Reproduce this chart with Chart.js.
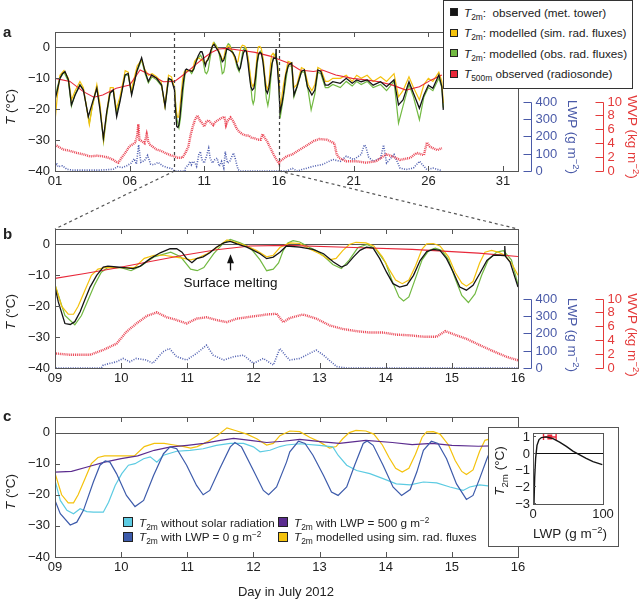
<!DOCTYPE html>
<html><head><meta charset="utf-8">
<script src="https://cdn.jsdelivr.net/npm/chart.js@4.4.1/dist/chart.umd.min.js"></script>
<style>
html,body{margin:0;padding:0;background:#fff;}
body{width:640px;height:599px;position:relative;overflow:hidden;font-family:"Liberation Sans",Arial,Helvetica,sans-serif;color:#222;}
canvas.panel{position:absolute;left:0;}
.txt{position:absolute;white-space:nowrap;line-height:1;}
.c{transform:translate(-50%,-50%);}
.r{transform:translate(-100%,-50%);}
.rotL{transform:translate(-50%,-50%) rotate(-90deg);}
.rotR{transform:translate(-50%,-50%) rotate(90deg);}
.lbl{position:absolute;font-weight:bold;font-size:15px;line-height:16px;}
.legbox{position:absolute;background:#fff;border:1px solid #333;box-sizing:border-box;}
.item{position:absolute;display:flex;align-items:center;height:16px;white-space:nowrap;font-size:11.7px;}
.item .sq{display:inline-block;box-sizing:border-box;border:1px solid #222;margin-right:6px;}
sub{font-size:0.72em;vertical-align:-0.35em;line-height:0;}
sup{font-size:0.7em;vertical-align:0.55em;line-height:0;}
#inset{position:absolute;left:488px;top:427px;width:131px;height:120px;box-sizing:border-box;border:1px solid #555;background:#fff;}
#inset canvas{display:block;}
</style>
</head><body>
<canvas id="cA" class="panel" width="640" height="192" style="top:0"></canvas>
<canvas id="cB" class="panel" width="640" height="195" style="top:195px"></canvas>
<canvas id="cC" class="panel" width="640" height="204" style="top:395px"></canvas>
<svg id="conn" width="640" height="599" style="position:absolute;left:0;top:0;pointer-events:none"></svg>
<div id="inset"><canvas id="cD" width="129" height="118"></canvas></div>
<div id="texts"></div>
<script>
// ---------------- axes / ticks ----------------
const monthRange = [1, 32];
const zoomRange = [9, 16];
const monthTicks = [1, 6, 11, 16, 21, 26, 31];
const monthTickLabels = ['01', '06', '11', '16', '21', '26', '31'];
const zoomTicks = [9, 10, 11, 12, 13, 14, 15, 16];
const zoomTickLabels = ['09', '10', '11', '12', '13', '14', '15', '16'];
const tempTicks = [-40, -30, -20, -10, 0];
const lwpTicks = [0, 100, 200, 300, 400];
const wvpTicks = [0, 2, 4, 6, 8, 10];
const insetLwpTicks = [0, 100];
const insetTempTicks = [-3, -2, -1, 0, 1];

// ---------------- series: [day, value] ----------------
const obsT2m = [
[1.0,-17],[1.15,-14],[1.33,-10],[1.5,-8.5],[1.67,-7.8],[1.9,-10.5],[2.1,-18.6],[2.35,-15.4],[2.67,-12.2],[2.9,-13.8],
[3.23,-22.4],[3.46,-18.6],[3.8,-13.2],[4.0,-19.7],[4.24,-29.4],[4.46,-21],[4.68,-14.8],[4.9,-13.8],[5.13,-22.4],[5.35,-17.5],
[5.69,-8.9],[5.9,-8.4],[6.13,-15.4],[6.47,-7.8],[6.8,-3.3],[7.03,-7.8],[7.25,-11],[7.47,-8.9],[7.8,-10],[8.14,-12.2],
[8.37,-19.1],[8.6,-10],[8.8,-10.5],
[9.0,-13.8],[9.05,-18.6],[9.15,-25.6],[9.23,-25.9],[9.3,-25],[9.38,-21.8],[9.45,-18],[9.53,-13.8],[9.63,-10],[9.73,-7.3],
[9.8,-7],[9.93,-7.3],[10.08,-7.6],[10.18,-7.8],[10.29,-7],[10.44,-4.6],[10.59,-2.7],[10.74,-1.4],[10.84,-1.4],[10.92,-2.5],
[10.99,-4.6],[11.07,-5.9],[11.14,-4.6],[11.24,-4],[11.34,-2.7],[11.44,-0.9],[11.55,0.5],[11.65,1],[11.75,0.2],[11.9,-0.9],
[12.0,-1.9],[12.1,-3],[12.2,-4.6],[12.3,-4.1],[12.4,-2.5],[12.5,-0.5],[12.7,-0.9],[12.9,-1.6],[13.06,-3],[13.21,-5.7],
[13.33,-7.3],[13.41,-6.6],[13.51,-4.1],[13.61,-1.9],[13.71,-0.9],[13.81,-1.2],[13.91,-4.6],[14.01,-8.9],[14.11,-12.7],[14.21,-13.8],
[14.32,-13.2],[14.42,-10],[14.52,-5.2],[14.62,-2.3],[14.72,-1.6],[14.82,-1.9],[14.92,-4.6],[15.02,-8.9],[15.12,-13.8],[15.22,-14.8],
[15.32,-13.2],[15.42,-9.5],[15.53,-5.2],[15.63,-3.5],[15.73,-3.5],[15.79,-3.6],[15.8,-0.5],[15.81,-3.8],[15.88,-5.7],[16.0,-13.8],
[16.07,-21],[16.2,-18],[16.3,-15],[16.45,-9],[16.63,-5.7],[16.85,-5],[17.0,-15.4],[17.2,-12.7],[17.5,-7.8],[17.7,-7.3],
[17.9,-12.7],[18.2,-15.4],[18.4,-13.8],[18.6,-7.3],[18.8,-7.8],[19.1,-12.2],[19.3,-12.2],[19.6,-11.1],[20.1,-11.6],[20.5,-10],
[20.9,-11.6],[21.2,-10.5],[21.5,-11.1],[21.9,-10.5],[22.3,-12.2],[22.8,-11.1],[23.2,-12.7],[23.7,-10.5],[24.0,-18.6],[24.3,-17],
[24.7,-11.1],[25.0,-14.8],[25.4,-19.7],[25.7,-15.4],[26.0,-12.2],[26.3,-13.2],[26.7,-8.9],[26.9,-12.7],[27.0,-20.2]
];
const simT2m = [
[1.0,-24],[1.15,-16],[1.33,-9],[1.6,-7.5],[1.9,-10],[2.1,-17],[2.35,-14],[2.67,-11],[2.9,-13],[3.3,-25],
[3.5,-19],[3.8,-12],[4.0,-18],[4.25,-30],[4.46,-21],[4.7,-13],[4.9,-13],[5.1,-20],[5.35,-16],[5.7,-7.5],
[5.9,-8],[6.1,-14],[6.5,-6],[6.8,-4],[7.0,-7],[7.25,-9],[7.5,-8.5],[7.8,-9.5],[8.1,-11],[8.35,-19],
[8.6,-9],[8.8,-9.5],
[9.0,-13],[9.1,-20],[9.2,-22.6],[9.28,-22.6],[9.35,-20],[9.45,-15],[9.55,-10],[9.65,-8],[9.75,-7.5],[10.0,-7.5],
[10.2,-7.5],[10.35,-4.5],[10.5,-3.5],[10.65,-3.5],[10.8,-4],[10.95,-4.5],[11.05,-5],[11.15,-4.5],[11.3,-3],[11.45,-1],
[11.6,1.5],[11.75,0.5],[11.9,-0.5],[12.05,-2],[12.2,-4],[12.3,-3.5],[12.4,-1],[12.55,0.5],[12.7,0.3],[12.85,-1.5],
[13.0,-3],[13.15,-5],[13.25,-4.5],[13.35,-2],[13.45,0],[13.55,0.7],[13.7,0.5],[13.82,-0.5],[13.95,-4],[14.05,-8],
[14.15,-11.5],[14.25,-12.7],[14.35,-11.5],[14.45,-7],[14.55,-1.5],[14.62,0.2],[14.72,0.3],[14.82,-0.5],[14.95,-4],[15.05,-9],
[15.15,-12.5],[15.22,-13.5],[15.32,-12],[15.42,-6],[15.5,-2.5],[15.6,-1.9],[15.7,-2.5],[15.8,-3.5],[15.9,-6],[16.0,-10],
[16.07,-20],[16.3,-12],[16.6,-4.5],[16.85,-5],[17.0,-13],[17.2,-12],[17.5,-6.5],[17.7,-7],[17.95,-12],[18.2,-14],
[18.4,-12],[18.6,-6.5],[18.8,-7],[19.1,-11],[19.3,-11],[19.6,-10],[20.1,-10],[20.5,-9],[20.9,-11],[21.2,-9],
[21.5,-10],[21.9,-9],[22.3,-11],[22.8,-9.5],[23.2,-11],[23.7,-8.5],[24.0,-16],[24.3,-14],[24.7,-9.5],[25.0,-13],
[25.4,-17],[25.7,-12],[26.0,-10],[26.3,-11],[26.7,-8],[26.9,-11],[27.0,-18]
];
const obsRadT2m = [
[1.0,-17],[1.15,-13],[1.33,-10],[1.6,-8],[1.9,-11],[2.1,-19],[2.35,-15],[2.67,-12],[2.9,-13.5],[3.3,-24.5],
[3.5,-19],[3.8,-13],[4.0,-19],[4.25,-30.5],[4.46,-22],[4.7,-14.5],[4.9,-14],[5.13,-21],[5.35,-17],[5.7,-9],
[5.9,-9],[6.13,-15],[6.47,-8],[6.8,-4],[7.03,-8.5],[7.25,-11.5],[7.5,-9.5],[7.8,-10.5],[8.14,-12.5],[8.37,-19],
[8.6,-10.5],[8.8,-10.5],
[9.0,-13],[9.15,-23],[9.3,-26],[9.4,-23],[9.5,-18],[9.6,-13],[9.7,-9],[9.8,-7.5],[10.0,-7.5],[10.15,-8.5],
[10.3,-7],[10.5,-4],[10.75,-2.5],[10.9,-4],[11.05,-8],[11.15,-8.5],[11.25,-7.5],[11.4,-3],[11.55,0.5],[11.65,1.6],
[11.8,0.5],[11.95,-1],[12.1,-5],[12.2,-8.5],[12.3,-8],[12.38,-6],[12.45,-2],[12.52,0.5],[12.6,1.2],[12.7,0.8],
[12.85,-1],[12.95,-2],[13.05,-3.5],[13.2,-6.5],[13.33,-7.8],[13.45,-5],[13.58,-1],[13.72,0],[13.85,-1.5],[14.0,-6],
[14.1,-12],[14.2,-17],[14.27,-18.3],[14.35,-17],[14.45,-11],[14.55,-5],[14.65,-2],[14.75,-1.2],[14.85,-2],[14.95,-5],
[15.05,-11],[15.15,-16.5],[15.25,-18.8],[15.35,-16],[15.45,-10],[15.55,-5],[15.68,-2.5],[15.78,-2],[15.9,-5],[16.0,-13],
[16.07,-23],[16.3,-16],[16.6,-6],[16.85,-6],[17.0,-16],[17.2,-13],[17.5,-8],[17.7,-8],[17.95,-14],[18.15,-20.2],
[18.4,-15],[18.6,-8],[18.8,-8.5],[19.1,-13],[19.3,-13],[19.6,-12],[20.1,-13],[20.5,-11],[20.9,-12.5],[21.2,-11],
[21.5,-12],[21.9,-11],[22.3,-13],[22.8,-12],[23.2,-14],[23.7,-11],[24.0,-24.5],[24.3,-19],[24.7,-12],[25.0,-16],
[25.4,-23.4],[25.7,-16],[26.0,-13],[26.3,-14],[26.7,-10],[26.9,-13],[27.0,-19.5]
];
const t500 = [
[1.0,-10],[2.0,-11],[2.9,-14.3],[3.6,-16.1],[4.2,-15.4],[5.1,-13.2],[6.0,-12.2],[6.7,-7.3],[7.4,-8.9],[8.25,-11.1],
[9.0,-11],[9.43,-9.5],[9.93,-7.6],[10.44,-5.5],[10.94,-3.5],[11.44,-1.7],[11.95,-0.5],[12.5,-0.3],[13.4,-0.9],[14.4,-1.6],
[15.4,-2.8],[16.0,-3.9],[16.7,-5.2],[17.4,-7.3],[18.3,-7.8],[18.9,-7.3],[19.8,-8.9],[20.9,-10],[21.8,-10.5],[22.7,-11.1],
[23.6,-12.2],[24.5,-13.8],[25.4,-12.7],[26.2,-10.5],[26.9,-8.9]
];
const wvp = [
[1.0,3.8],[1.3,3.4],[1.56,3.1],[2.0,2.9],[2.45,2.6],[2.9,2.4],[3.34,2.1],[3.8,2.2],[4.24,2.1],[4.6,1.9],
[4.9,1.6],[5.1,1.3],[5.24,1.2],[5.46,1.9],[5.7,2.6],[6.0,3.6],[6.2,3.8],[6.36,4.1],[6.5,5.0],[6.58,6.7],
[6.65,4.5],[6.8,4.3],[7.0,4.0],[7.14,5.3],[7.25,4.2],[7.36,3.8],[7.6,3.4],[7.8,3.1],[8.1,2.9],[8.37,2.6],
[8.7,2.3],[9.0,2.1],[9.23,1.9],[9.53,1.9],[9.73,2.6],[9.93,3.5],[10.08,5.2],[10.23,6.4],[10.39,7.5],[10.54,8.0],
[10.69,7.3],[10.84,6.9],[10.99,6.4],[11.14,7.1],[11.29,7.3],[11.44,6.9],[11.6,6.6],[11.75,7.1],[11.9,7.3],[12.05,7.5],
[12.2,7.7],[12.35,7.8],[12.45,6.6],[12.55,7.2],[12.75,7.7],[12.95,7.1],[13.16,6.1],[13.36,5.6],[13.56,5.3],[13.76,5.1],
[13.96,5.1],[14.16,4.8],[14.37,4.7],[14.57,4.5],[14.77,4.5],[14.9,5.3],[15.07,4.7],[15.22,4.2],[15.42,3.3],[15.63,2.4],
[15.83,1.6],[16.0,1.1],[16.07,1.4],[16.5,2.1],[16.9,2.4],[17.4,3.1],[17.8,3.6],[18.3,4.3],[18.7,4.6],[19.2,4.5],
[19.7,4.0],[19.85,2.5],[20.0,1.9],[20.5,1.4],[21.2,1.4],[21.8,1.2],[22.5,1.4],[22.9,2.0],[23.2,2.4],[23.6,2.1],
[24.1,1.6],[24.8,1.9],[25.2,2.6],[25.7,2.3],[25.9,4.1],[26.1,3.5],[26.3,3.3],[26.6,3.0],[26.9,3.3]
];
const lwp = [
[1.0,20],[1.1,45],[1.2,25],[1.5,30],[1.8,10],[2.2,5],[3.0,5],[4.0,5],[4.9,10],[5.2,25],
[5.5,20],[5.8,30],[6.1,45],[6.3,70],[6.45,40],[6.6,150],[6.75,50],[7.0,60],[7.2,90],[7.4,40],
[7.6,35],[7.9,50],[8.2,30],[8.5,20],[8.8,15],[9.0,0],[9.7,0],[9.73,17],[9.93,36],[10.03,55],
[10.13,36],[10.23,55],[10.38,46],[10.48,27],[10.63,93],[10.73,112],[10.84,65],[10.99,46],[11.14,84],[11.29,131],
[11.39,74],[11.55,46],[11.7,65],[11.85,74],[12.0,27],[12.15,55],[12.3,17],[12.4,112],[12.5,65],[12.55,46],
[12.7,55],[12.85,84],[12.95,103],[13.06,74],[13.16,40],[13.26,8],[13.4,0],[16.5,0],[16.9,15],[17.2,0],
[17.8,15],[18.3,27],[18.9,37],[19.6,66],[20.1,56],[20.5,85],[21.0,66],[21.5,95],[21.7,150],[21.8,143],
[22.0,80],[22.3,56],[22.8,75],[23.0,150],[23.2,46],[23.7,95],[24.1,17],[24.5,8],[25.0,17],[25.4,56],
[25.9,8],[26.3,17],[26.9,2]
];
// panel c model experiments
const noSolarT2m = [
[9.0,-15.4],[9.08,-21.8],[9.18,-25],[9.28,-26.1],[9.38,-24.5],[9.48,-25.4],[9.58,-25.6],[9.73,-25.6],[9.81,-22.4],[9.91,-17],
[10.01,-13.2],[10.11,-10.5],[10.21,-10],[10.34,-8.4],[10.44,-7.8],[10.54,-9.5],[10.64,-7.3],[10.84,-6.0],[11.04,-5.7],[11.24,-5.2],
[11.44,-4.1],[11.65,-3.5],[11.85,-3.5],[12.0,-4.6],[12.1,-6.2],[12.25,-5.7],[12.4,-4.5],[12.5,-4.0],[12.7,-3.6],[13.0,-4.1],
[13.2,-4.6],[13.28,-7.3],[13.41,-10.5],[13.56,-12.2],[13.76,-13.2],[13.96,-14.8],[14.16,-16.5],[14.37,-16.8],[14.57,-15.9],[14.77,-16.2],
[14.97,-17.5],[15.17,-18.6],[15.27,-17.5],[15.42,-16.8],[15.58,-17.2]
];
const lwp0T2m = [
[9.0,-21.8],[9.08,-26.1],[9.23,-29.7],[9.33,-28.8],[9.43,-25],[9.58,-15.9],[9.68,-10.5],[9.76,-9.1],[9.83,-9.5],[9.93,-13.2],
[10.08,-20.2],[10.21,-23.8],[10.34,-21.8],[10.49,-13.8],[10.64,-6.8],[10.74,-4.6],[10.84,-5.2],[10.99,-10.5],[11.14,-17],[11.24,-20],
[11.34,-18.6],[11.49,-11.6],[11.65,-4.6],[11.72,-3.2],[11.82,-4.6],[12.0,-12.2],[12.15,-18.6],[12.23,-20],[12.35,-17.5],[12.5,-9.5],
[12.55,-6.2],[12.68,-2.8],[12.78,-3.5],[12.9,-7.3],[13.06,-13.8],[13.18,-19.1],[13.28,-20.2],[13.41,-17.5],[13.53,-10.5],[13.66,-3.5],
[13.72,-2.7],[13.81,-4.1],[13.96,-10.5],[14.11,-17.5],[14.24,-20.2],[14.37,-18.3],[14.47,-12.7],[14.57,-5.7],[14.69,-2.8],[14.79,-3.5],
[14.92,-8.4],[15.07,-16.5],[15.22,-21.5],[15.32,-20.2],[15.42,-14.8],[15.53,-8.4],[15.63,-3.5]
];
const lwp500T2m = [
[9.0,-12.7],[9.25,-12.5],[9.5,-11],[9.75,-9.5],[10.0,-8.4],[10.25,-7.5],[10.5,-5.7],[10.75,-4.6],[11.0,-4.1],[11.25,-3.5],
[11.5,-2.5],[11.7,-1.9],[11.95,-2.5],[12.2,-3.2],[12.45,-2.8],[12.7,-2.2],[13.05,-3.0],[13.3,-3.5],[13.7,-2.5],[14.1,-3.2],
[14.4,-3.9],[14.7,-3.5],[15.0,-4.1],[15.4,-4.4],[15.6,-4.3]
];
// inset: T2m sensitivity to LWP, [LWP, T]
const insetCurve = [
[1.4,-3.1],[2.4,-1.5],[3.8,-0.3],[5.7,0.45],[8.6,0.8],[12,0.92],[19,0.96],[28.6,0.86],[38,0.65],[47.6,0.39],
[57,0.1],[66.7,-0.12],[76,-0.33],[85.7,-0.53],[99,-0.71]
];
const insetObsLwp = [15, 24, 33];   // observed LWP range (min, mean, max)
const insetObsT = 0.95;

// ---------------- styling ----------------
const FONT = '"Liberation Sans", Arial, Helvetica, sans-serif';
const C = {black:'#151515', yellow:'#f4c20d', green:'#72b942', red:'#e8283a', blue:'#3d4fa8',
           cyan:'#5ccbe2', dblue:'#3d5bab', purple:'#5b2c8f', frame:'#555', lwpAxis:'#4a5aa8', wvpAxis:'#e43a3a',
           wvpDots:'rgba(232,40,58,0.85)', lwpDots:'rgba(61,79,168,0.9)'};
Chart.defaults.font.family = FONT;
Chart.defaults.font.size = 13;
Chart.defaults.color = '#222';
Chart.defaults.animation = false;

const pts = a => a.map(p => ({x: p[0], y: p[1]}));
const fmt = v => (v < 0 ? '\u2212' : '') + Math.abs(v);
function lineDS(label, data, color, width, extra) {
  return Object.assign({label, data: pts(data), borderColor: color, backgroundColor: color,
    borderWidth: width, pointRadius: 0, tension: 0, fill: false}, extra || {});
}
function xScale(range, ticks, labels, h) {
  return {type: 'linear', min: range[0], max: range[1],
    afterBuildTicks: s => { s.ticks = ticks.map(v => ({value: v})); },
    afterFit: s => { s.height = h; s.paddingLeft = 0; s.paddingRight = 0; },
    grid: {display: false, drawTicks: false}, border: {display: false},
    ticks: {padding: 3, maxRotation: 0, autoSkip: false, callback: (v, i) => labels[i]}};
}
function yScale(min, max, ticks, w, pad, showLabels) {
  return {type: 'linear', position: 'left', min, max,
    afterBuildTicks: s => { s.ticks = ticks.map(v => ({value: v})); },
    afterFit: s => { s.width = w; s.paddingTop = 0; s.paddingBottom = 0; },
    grid: {display: false, drawTicks: false}, border: {display: false},
    ticks: {display: showLabels !== false, padding: pad, autoSkip: false, callback: v => fmt(v)}};
}
// hidden right-hand scales: their tick range fills the lower half of the plot
const hiddenScale = top => ({type: 'linear', axis: 'y', position: 'right', display: false, min: 0, max: top * 2});

const framePlugin = {
  id: 'frame',
  beforeDatasetsDraw(chart, args, o) {
    const {ctx, chartArea: a, scales} = chart;
    if (o.zero) {
      const y = Math.round(scales.y.getPixelForValue(0)) + 0.5;
      ctx.save(); ctx.strokeStyle = o.zeroColor || '#555'; ctx.lineWidth = 1;
      ctx.beginPath(); ctx.moveTo(a.left, y); ctx.lineTo(a.right, y); ctx.stroke(); ctx.restore();
    }
  },
  afterDatasetsDraw(chart, args, o) {
    const {ctx, chartArea: a, scales} = chart;
    ctx.save();
    (o.vlines || []).forEach(d => {
      const x = Math.round(scales.x.getPixelForValue(d)) + 0.5;
      ctx.setLineDash([3, 3]); ctx.strokeStyle = '#444'; ctx.lineWidth = 1.2;
      ctx.beginPath(); ctx.moveTo(x, a.top); ctx.lineTo(x, a.bottom); ctx.stroke();
    });
    ctx.setLineDash([]); ctx.strokeStyle = C.frame; ctx.lineWidth = 1;
    const L = Math.round(a.left) + 0.5, T = Math.round(a.top) + 0.5;
    ctx.strokeRect(L, T, Math.round(a.right) - Math.round(a.left), Math.round(a.bottom) - Math.round(a.top));
    const tl = o.tick || 5;
    ctx.beginPath();
    scales.x.ticks.forEach(t => {
      const x = Math.round(scales.x.getPixelForValue(t.value)) + 0.5;
      ctx.moveTo(x, a.top); ctx.lineTo(x, a.top + tl);
      ctx.moveTo(x, a.bottom); ctx.lineTo(x, a.bottom - tl);
    });
    scales.y.ticks.forEach(t => {
      const y = Math.round(scales.y.getPixelForValue(t.value)) + 0.5;
      ctx.moveTo(a.left, y); ctx.lineTo(a.left + tl, y);
    });
    ctx.stroke();
    ctx.restore();
  }
};
const sideAxesPlugin = {
  id: 'sideAxes',
  afterDraw(chart, args, o) {
    const {ctx, chartArea: a} = chart;
    (o.axes || []).forEach(ax => {
      const sc = chart.scales[ax.id];
      const xl = Math.round(a.right + ax.offset) + 0.5;
      const ys = ax.ticks.map(v => Math.round(sc.getPixelForValue(v)) + 0.5);
      ctx.save(); ctx.strokeStyle = ax.color; ctx.fillStyle = ax.color; ctx.lineWidth = 1;
      ctx.beginPath(); ctx.moveTo(xl, Math.min(...ys)); ctx.lineTo(xl, Math.max(...ys));
      ys.forEach(y => { ctx.moveTo(xl - 8, y); ctx.lineTo(xl, y); });
      ctx.stroke();
      ctx.font = '13px ' + FONT; ctx.textAlign = 'left'; ctx.textBaseline = 'middle';
      ax.ticks.forEach((v, i) => ctx.fillText(String(v), xl + 4, ys[i]));
      ctx.restore();
    });
  }
};
const notePlugin = {
  id: 'note',
  afterDatasetsDraw(chart, args, o) {
    if (!o || !o.text) return;
    const {ctx, scales: {x, y}} = chart;
    const px = Math.round(x.getPixelForValue(o.day)) + 0.5;
    const yh = y.getPixelForValue(o.head), yt = y.getPixelForValue(o.tail);
    ctx.save(); ctx.strokeStyle = '#111'; ctx.fillStyle = '#111'; ctx.lineWidth = 1.3;
    ctx.beginPath(); ctx.moveTo(px, yt); ctx.lineTo(px, yh + 5); ctx.stroke();
    ctx.beginPath(); ctx.moveTo(px, yh); ctx.lineTo(px - 3.5, yh + 9); ctx.lineTo(px + 3.5, yh + 9); ctx.closePath(); ctx.fill();
    ctx.font = '13.5px ' + FONT; ctx.textAlign = 'center'; ctx.textBaseline = 'middle';
    ctx.fillText(o.text, px, y.getPixelForValue(o.textAt));
    ctx.restore();
  }
};

function tempDatasets() {
  return [
    lineDS('T2m observed (met. tower)', obsT2m, C.black, 1.3),
    lineDS('T500m observed (radiosonde)', t500, C.red, 1.1),
    lineDS('T2m modelled (sim. rad. fluxes)', simT2m, C.yellow, 1.2),
    lineDS('T2m modelled (obs. rad. fluxes)', obsRadT2m, C.green, 1.2),
    lineDS('WVP', wvp, C.wvpDots, 2.4, {yAxisID: 'wvp', borderDash: [1, 0.9]}),
    lineDS('LWP', lwp, C.lwpDots, 1.6, {yAxisID: 'lwp', borderDash: [1, 1.4]})
  ];
}
const sideAxes = [
  {id: 'lwp', ticks: lwpTicks, offset: 13, color: C.lwpAxis},
  {id: 'wvp', ticks: wvpTicks, offset: 85, color: C.wvpAxis}
];
const baseOpts = {responsive: false, animation: false, events: []};

const chartA = new Chart(document.getElementById('cA'), {
  type: 'line',
  data: {datasets: tempDatasets()},
  options: Object.assign({}, baseOpts, {
    layout: {padding: {top: 32, left: 0, right: 122, bottom: 0}},
    plugins: {legend: {display: false}, tooltip: {enabled: false},
      frame: {zero: true, vlines: zoomRange}, sideAxes: {axes: sideAxes}},
    scales: {x: xScale(monthRange, monthTicks, monthTickLabels, 21), y: yScale(-40, 5, tempTicks, 55, 5),
      lwp: hiddenScale(400), wvp: hiddenScale(10)}
  }),
  plugins: [framePlugin, sideAxesPlugin]
});
const chartB = new Chart(document.getElementById('cB'), {
  type: 'line',
  data: {datasets: tempDatasets()},
  options: Object.assign({}, baseOpts, {
    layout: {padding: {top: 34, left: 0, right: 122, bottom: 0}},
    plugins: {legend: {display: false}, tooltip: {enabled: false},
      frame: {zero: true}, sideAxes: {axes: sideAxes},
      note: {text: 'Surface melting', day: 11.65, head: -3.2, tail: -8.4, textAt: -12.7}},
    scales: {x: xScale(zoomRange, zoomTicks, zoomTickLabels, 22), y: yScale(-40, 5, tempTicks, 55, 5),
      lwp: hiddenScale(400), wvp: hiddenScale(10)}
  }),
  plugins: [framePlugin, sideAxesPlugin, notePlugin]
});
const chartC = new Chart(document.getElementById('cC'), {
  type: 'line',
  data: {datasets: [
    lineDS('T2m with LWP = 0 g m-2', lwp0T2m, C.dblue, 1.2),
    lineDS('T2m with LWP = 500 g m-2', lwp500T2m, C.purple, 1.2),
    lineDS('T2m without solar radiation', noSolarT2m, C.cyan, 1.2),
    lineDS('T2m modelled using sim. rad. fluxes', simT2m, C.yellow, 1.2)
  ]},
  options: Object.assign({}, baseOpts, {
    layout: {padding: {top: 22, left: 0, right: 122, bottom: 0}},
    plugins: {legend: {display: false}, tooltip: {enabled: false}, frame: {zero: true}},
    scales: {x: xScale(zoomRange, zoomTicks, zoomTickLabels, 42), y: yScale(-40, 5, tempTicks, 55, 5)}
  }),
  plugins: [framePlugin]
});
const chartD = new Chart(document.getElementById('cD'), {
  type: 'line',
  data: {datasets: [
    lineDS('T2m vs LWP', insetCurve, C.black, 1.4),
    lineDS('observed', insetObsLwp.map(v => [v, insetObsT]), C.red, 1.6, {
      pointRadius: [3, 2.5, 3], pointStyle: ['line', 'rect', 'line'], pointRotation: [90, 0, 90],
      pointBorderColor: C.red, pointBackgroundColor: C.red, pointBorderWidth: 1.4})
  ]},
  options: Object.assign({}, baseOpts, {
    layout: {padding: {top: 5, left: 0, right: 15, bottom: 0}},
    plugins: {legend: {display: false}, tooltip: {enabled: false},
      frame: {zero: true, zeroColor: '#111', tick: 3}},
    scales: {x: xScale([0, 100], insetLwpTicks, ['0', '100'], 42), y: yScale(-3.08, 1.17, insetTempTicks, 44, 3, false)}
  }),
  plugins: [framePlugin]
});

// connectors between panel a and its zoom (panel b)
(function () {
  const topA = 0, topB = 195;
  const xa = zoomRange.map(d => chartA.scales.x.getPixelForValue(d));
  const yA = chartA.chartArea.bottom + topA;
  const b = chartB.chartArea, yB = b.top + topB;
  const ln = (x1, y1, x2, y2) => `<line x1="${x1}" y1="${y1}" x2="${x2}" y2="${y2}" stroke="#555" stroke-width="1.2" stroke-dasharray="3,3"/>`;
  document.getElementById('conn').innerHTML = ln(xa[0], yA, b.left, yB) + ln(xa[1], yA, b.right, yB);
})();

// ---------------- text: labels, titles, legends ----------------
const T2M = '<i>T</i><sub>2m</sub>';
const legendA = [
  {html: T2M + ':&nbsp; observed (met. tower)', color: C.black},
  {html: T2M + ': modelled (sim. rad. fluxes)', color: C.yellow},
  {html: T2M + ': modelled (obs. rad. fluxes)', color: C.green},
  {html: '<i>T</i><sub>500m</sub> observed (radiosonde)', color: C.red}
];
const legendC = [
  {html: T2M + ' without solar radiation', color: C.cyan},
  {html: T2M + ' with LWP = 0 g m<sup>\u22122</sup>', color: C.dblue},
  {html: T2M + ' with LWP = 500 g m<sup>\u22122</sup>', color: C.purple},
  {html: T2M + ' modelled using sim. rad. fluxes', color: C.yellow}
];
let h = '';
h += '<div class="legbox" style="left:443px;top:0;width:190px;height:89px"></div>';
legendA.forEach((e, i) => {
  h += `<div class="item" style="left:450px;top:${4 + i * 20.6}px"><span class="sq" style="width:8px;height:8px;background:${e.color}"></span><span>${e.html}</span></div>`;
});
legendC.forEach((e, i) => {
  const col = Math.floor(i / 2), row = i % 2;
  h += `<div class="item" style="left:${col ? 278 : 123}px;top:${514 + row * 14.5}px"><span class="sq" style="width:10px;height:10px;background:${e.color}"></span><span>${e.html}</span></div>`;
});
const lbl = (t, x, y) => `<div class="lbl" style="left:${x}px;top:${y}px">${t}</div>`;
h += lbl('a', 3, 24) + lbl('b', 3, 226) + lbl('c', 3, 408);
const tt = (html, x, y, cls, size, color) => `<div class="txt ${cls}" style="left:${x}px;top:${y}px;font-size:${size}px;color:${color || '#222'}">${html}</div>`;
['107', '312', '492'].forEach(y => { h += tt('<i>T</i> (°C)', 11, y, 'rotL', 13.5); });
[137, 335].forEach(y => {
  h += tt('LWP (g m<sup>\u22122</sup>)', 572, y, 'rotR', 13.5, C.lwpAxis);
  h += tt('WVP (kg m<sup>\u22122</sup>)', 632, y, 'rotR', 13.5, C.wvpAxis);
});
h += tt('Day in July 2012', 286, 591, 'c', 13);
h += tt('LWP (g m<sup>\u22122</sup>)', 570, 534, 'c', 13.5);
h += tt('<i>T</i><sub>2m</sub> (°C)', 500, 471, 'rotL', 13.5);
// inset y tick labels, placed from the inset chart's own y scale
(function () {
  const box = document.getElementById('cD').getBoundingClientRect();
  const a = chartD.chartArea;
  insetTempTicks.forEach(v => {
    h += tt(fmt(v), box.left + a.left - 3, box.top + chartD.scales.y.getPixelForValue(v), 'r', 13);
  });
})();
document.getElementById('texts').innerHTML = h;
</script>
</body></html>
